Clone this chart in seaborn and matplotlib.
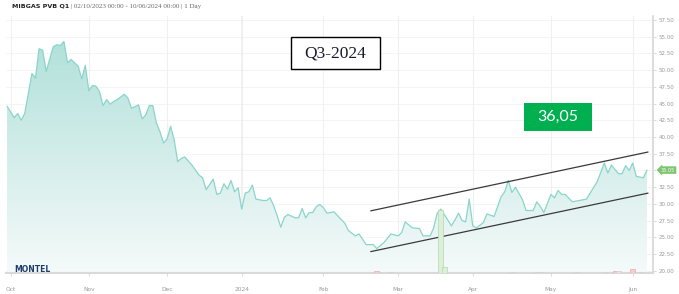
import numpy as np
import pandas as pd
import matplotlib
matplotlib.use("Agg")
import matplotlib.pyplot as plt
import matplotlib.transforms as mtrans
from matplotlib.patches import Rectangle, Polygon
from matplotlib.colors import LinearSegmentedColormap
import seaborn as sns

# ---------------- data ----------------
start_date = "2023-10-02"
end_date = "2024-06-10"

trading_day = [0, 2, 3, 4, 5, 7, 8, 9, 10, 11,
               13, 14, 15, 16, 17, 18, 20, 21, 22, 23,
               24, 25, 26, 27, 28, 29, 30, 31, 33, 34,
               35, 37, 38, 39, 40, 41, 42, 43, 44, 45,
               46, 47, 48, 49, 50, 52, 54, 55, 56, 58,
               59, 60, 61, 62, 63, 64, 65, 66, 67, 68,
               69, 70, 72, 73, 74, 75, 76, 77, 78, 79,
               81, 82, 83, 84, 85, 86, 87, 88, 89, 90,
               92, 93, 95, 96, 97, 98, 99, 100, 101, 103,
               104, 106, 108, 110, 111, 112, 114, 116, 117, 119,
               120, 121, 122, 123, 125, 126, 127, 128, 129, 130,
               131, 132, 134, 135, 137, 139, 140, 141, 142, 143,
               145, 146, 148, 149, 150, 151, 153, 154, 155, 156,
               157, 159, 161, 163, 164, 166, 168, 169, 170, 172,
               173, 174, 175, 176, 177, 179, 180]
price = [44.6, 42.9, 43.5, 42.5, 43.6, 49.5, 48.8, 53.2, 53.0, 49.8,
         53.5, 53.8, 53.7, 54.3, 51.1, 51.6, 50.6, 48.7, 50.7, 46.9,
         47.7, 47.6, 46.8, 44.7, 45.6, 44.9, 45.3, 45.6, 46.4, 45.8,
         44.3, 44.8, 42.7, 43.3, 44.7, 44.7, 42.1, 40.8, 39.1, 39.7,
         41.6, 39.6, 36.3, 36.8, 37.0, 35.8, 34.3, 33.9, 32.1, 33.7,
         31.4, 31.6, 33.0, 32.2, 33.5, 31.8, 32.4, 29.2, 31.6, 31.8,
         32.8, 30.7, 30.5, 30.5, 30.9, 29.7, 28.2, 26.5, 28.0, 28.4,
         27.9, 27.9, 29.3, 27.9, 28.7, 28.7, 29.6, 29.9, 29.4, 28.6,
         28.8, 28.2, 27.1, 26.0, 25.6, 25.2, 25.5, 24.7, 23.9, 23.9,
         23.3, 24.2, 25.5, 25.2, 25.7, 27.3, 26.4, 26.3, 25.2, 25.2,
         26.4, 28.6, 29.2, 28.4, 26.7, 27.6, 28.6, 27.5, 27.3, 30.7,
         26.7, 26.4, 27.2, 28.5, 28.1, 31.1, 31.8, 33.5, 31.7, 32.5,
         30.6, 29.0, 29.0, 30.3, 29.6, 28.7, 31.4, 30.9, 32.0, 31.4,
         31.4, 30.3, 30.5, 30.7, 31.6, 33.3, 36.1, 34.6, 35.8, 34.5,
         34.5, 35.7, 35.0, 36.1, 34.1, 33.9, 35.05]

# trend channel (start / end trading day, value)
trend_day = [102.3, 180.3]
trend_upper = [28.95, 37.75]
trend_lower = [22.85, 31.6]

# volume bars
vol_day = [104, 108, 122, 123, 142, 149, 150, 160, 168, 171, 172, 176, 178]
vol_val = [0.6, 0.5, 24.5, 2.4, 0.4, 0.5, 0.4, 0.5, 0.5, 0.6, 0.7, 1.6, 0.5]
vol_kind = ["down", "flat", "up", "up", "flat", "flat", "flat", "flat", "flat",
            "down", "flat", "down", "flat"]

y_ticks = [20.0, 22.5, 25.0, 27.5, 30.0, 32.5, 35.0, 37.5, 40.0, 42.5,
           45.0, 47.5, 50.0, 52.5, 55.0, 57.5]
month_labels = ["Oct", "Nov", "Dec", "2024", "Feb", "Mar", "Apr", "May", "Jun"]

title_bold = "MIBGAS PVB Q1"
title_rest = " | 02/10/2023 00:00 - 10/06/2024 00:00 | 1 Day"
box_label = "Q3-2024"
callout_label = "36,05"
last_label = "35.05"

# ---------------- figure ----------------
sns.set_theme(style="white")
plt.rcParams["font.family"] = ["DejaVu Sans"]

W, H = 679, 294
fig = plt.figure(figsize=(W / 100, H / 100), dpi=100)
fig.patch.set_facecolor("white")

ax = fig.add_axes([6 / W, 1 - 273 / H, 647 / W, 257 / H])
ax.set_facecolor("white")

dates = pd.bdate_range(start_date, end_date)
df = pd.DataFrame({"day": trading_day, "price": price,
                   "date": dates[trading_day]})

ybot, ytop = 19.65, 58.1
xmin, xmax = -0.3, 181.7

# gradient area under the curve
poly_xy = np.vstack([[df["day"].iloc[0], ybot],
                     df[["day", "price"]].to_numpy(),
                     [df["day"].iloc[-1], ybot]])
clip = Polygon(poly_xy, closed=True, facecolor="none", edgecolor="none")
ax.add_patch(clip)
grad = np.linspace(1, 0, 256).reshape(-1, 1)
cmap = LinearSegmentedColormap.from_list("area", ["#f5fafa", "#abded7"])
im = ax.imshow(grad, aspect="auto", cmap=cmap, extent=[xmin, xmax, ybot, ytop],
               origin="upper", zorder=1, interpolation="bilinear")
im.set_clip_path(clip)

sns.lineplot(data=df, x="day", y="price", ax=ax, color="#8ad5cb",
             linewidth=0.9, zorder=3)

# trend channel
tr = pd.DataFrame({"day": trend_day * 2,
                   "value": trend_upper + trend_lower,
                   "line": ["upper"] * 2 + ["lower"] * 2})
sns.lineplot(data=tr, x="day", y="value", units="line", estimator=None,
             ax=ax, color="#3a3a3a", linewidth=0.9, zorder=4)

# volume bars on a hidden secondary scale
ax2 = ax.twinx()
vcol = {"up": "#dcefd8", "down": "#f6cccc", "flat": "#e4e4e4"}
ecol = {"up": "#b3d9aa", "down": "#e8a9a9", "flat": "#cfcfcf"}
ax2.bar(vol_day, vol_val, width=1.3,
        color=[vcol[k] for k in vol_kind],
        edgecolor=[ecol[k] for k in vol_kind], linewidth=0.5, zorder=2)
ax2.set_ylim(0, 100)
ax2.axis("off")

ax.set_xlim(xmin, xmax)
ax.set_ylim(ybot, ytop)

# month ticks
first_idx = pd.Series(np.arange(len(dates)), index=dates)
month_pos = first_idx.groupby([dates.year, dates.month]).first().to_numpy() + 1
ax.set_xticks(month_pos)
ax.set_xticklabels(month_labels)
ax.set_yticks(y_ticks)
# the 35.00 label sits under the last-price tag in the reference
ax.set_yticklabels(["" if abs(v - 35.0) < 1e-9 else f"{v:.2f}" for v in y_ticks])
ax.yaxis.tick_right()
ax.tick_params(axis="y", length=2.5, width=0.5, color="#cccccc", pad=1.5,
               labelsize=4, labelcolor="#999999", right=True, left=False)
ax.tick_params(axis="x", length=2.5, width=0.5, color="#cccccc", pad=7.5,
               labelsize=4.2, labelcolor="#999999", bottom=True)
ax.set_xlabel("")
ax.set_ylabel("")

for v in y_ticks:
    ax.axhline(v, color="#f2f2f2", lw=0.6, zorder=0)
for i, p in enumerate(month_pos):
    ax.axvline(p, color="#ececec" if month_labels[i] == "2024" else "#f0f0f0",
               lw=1.1 if month_labels[i] == "2024" else 0.8, zorder=0)

for s in ["top", "left"]:
    ax.spines[s].set_visible(False)
ax.spines["right"].set_color("#d6d6d6")
ax.spines["right"].set_linewidth(1.2)
ax.spines["bottom"].set_color("#d9d9d9")
ax.spines["bottom"].set_linewidth(1.5)

# last price tag
blend = mtrans.blended_transform_factory(ax.transAxes, ax.transData)
ax.text(1.012, price[-1], last_label, transform=blend, fontsize=3.6,
        color="white", va="center", ha="left", zorder=6, clip_on=False,
        bbox=dict(boxstyle="larrow,pad=0.25", fc="#7ec46d", ec="none"))

# logo
fig.text(14 / W, 1 - 269 / H, "MONTEL", fontsize=5.5, fontweight="bold",
         color="#1f3d6d", va="center", ha="left")

# title
t1 = fig.text(12 / W, 1 - 6.5 / H, title_bold, fontsize=4.6, fontweight="bold",
              color="#222222", va="center", ha="left")
fig.canvas.draw()
bb = t1.get_window_extent(fig.canvas.get_renderer())
fig.text(bb.x1 / W, 1 - 6.5 / H, title_rest, fontsize=5.0,
         family="Liberation Serif", color="#666666", va="center", ha="left")

# Q3-2024 box
fig.patches.append(Rectangle((291 / W, 1 - 69 / H), 89 / W, 32 / H,
                             transform=fig.transFigure, facecolor="white",
                             edgecolor="black", linewidth=1.0, zorder=10))
fig.text(335.5 / W, 1 - 53 / H, box_label, fontsize=12.5,
         family="Liberation Serif", color="#1a1a2e", ha="center", va="center",
         zorder=11)

# green callout
fig.patches.append(Rectangle((524 / W, 1 - 131 / H), 68 / W, 28 / H,
                             transform=fig.transFigure, facecolor="#00b050",
                             edgecolor="none", zorder=10))
fig.text(558 / W, 1 - 117 / H, callout_label, fontsize=11.5, family="Lato",
         color="white", ha="center", va="center", zorder=11)

fig.savefig("out.png", dpi=100)
